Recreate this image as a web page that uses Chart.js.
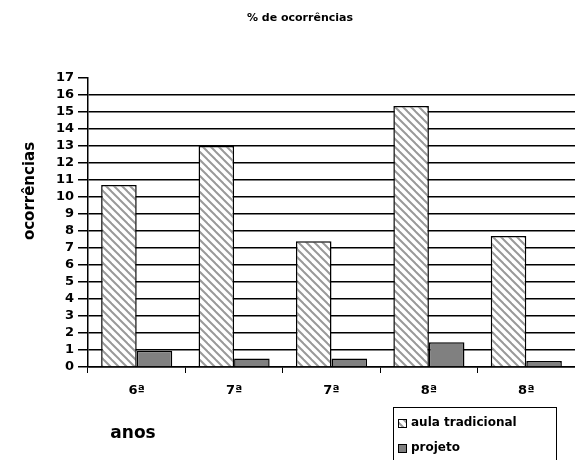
<!DOCTYPE html>
<html>
<head>
<meta charset="utf-8">
<script src="https://cdn.jsdelivr.net/npm/chart.js@4.4.1/dist/chart.umd.min.js"></script>
<style>
  html, body { margin: 0; padding: 0; background: #fff; }
  #wrap { width: 575px; height: 460px; }
</style>
</head>
<body>
<div id="wrap"><canvas id="chart"></canvas></div>
<script>
const anos = ["6ª", "7ª", "7ª", "8ª", "8ª"];
const aulaTradicional = [10.7, 13.0, 7.4, 15.35, 7.7];
const projeto = [0.95, 0.5, 0.5, 1.45, 0.35];
const yTicks = [0, 1, 2, 3, 4, 5, 6, 7, 8, 9, 10, 11, 12, 13, 14, 15, 16, 17];

const FONT = "'DejaVu Sans', sans-serif";

// diagonal hatch "\\\" for the first series
function makeHatch() {
  const s = 8;
  const c = document.createElement("canvas");
  c.width = s; c.height = s;
  const g = c.getContext("2d");
  g.fillStyle = "#fff";
  g.fillRect(0, 0, s, s);
  g.strokeStyle = "#999";
  g.lineWidth = 2;
  [-s, 0, s].forEach(k => {
    g.beginPath();
    g.moveTo(-1, k - 1);
    g.lineTo(s + 1, k + s + 1);
    g.stroke();
  });
  return g.createPattern(c, "repeat");
}
const hatch = makeHatch();

const extras = {
  id: "extras",
  afterDraw(chart) {
    const ctx = chart.ctx;
    ctx.save();
    ctx.fillStyle = "#000";
    ctx.textBaseline = "middle";

    // title
    ctx.font = "bold 11px " + FONT;
    ctx.textAlign = "center";
    ctx.fillText("% de ocorrências", 300, 18);

    // y title
    ctx.save();
    ctx.translate(30, 191);
    ctx.rotate(-Math.PI / 2);
    ctx.font = "bold 15px " + FONT;
    ctx.fillText("ocorrências", 0, 0);
    ctx.restore();

    // x title
    ctx.font = "bold 17px " + FONT;
    ctx.fillText("anos", 133, 434);

    // legend
    ctx.strokeStyle = "#000";
    ctx.lineWidth = 1;
    ctx.strokeRect(393.5, 407.5, 163, 60);
    const items = [
      { label: "aula tradicional", fill: hatch, y: 423 },
      { label: "projeto", fill: "#808080", y: 448 }
    ];
    ctx.textAlign = "left";
    ctx.font = "bold 12px " + FONT;
    items.forEach(it => {
      ctx.fillStyle = it.fill;
      ctx.fillRect(398, it.y - 4, 8, 8);
      ctx.strokeRect(398.5, it.y - 3.5, 8, 8);
      ctx.fillStyle = "#000";
      ctx.fillText(it.label, 411, it.y);
    });
    ctx.restore();
  }
};

new Chart(document.getElementById("chart"), {
  type: "bar",
  data: {
    labels: anos,
    datasets: [
      {
        label: "aula tradicional",
        data: aulaTradicional,
        backgroundColor: hatch,
        borderColor: "#000",
        borderWidth: 1.5,
        borderSkipped: "bottom"
      },
      {
        label: "projeto",
        data: projeto,
        backgroundColor: "#808080",
        borderColor: "#000",
        borderWidth: 1.5,
        borderSkipped: "bottom"
      }
    ]
  },
  options: {
    responsive: true,
    maintainAspectRatio: false,
    animation: false,
    datasets: {
      bar: { categoryPercentage: 0.73, barPercentage: 1 }
    },
    layout: { padding: { top: 78, left: 0, right: 0, bottom: 0 } },
    plugins: {
      legend: { display: false },
      title: { display: false },
      tooltip: { enabled: false }
    },
    scales: {
      x: {
        afterFit(scale) { scale.height = 93; },
        border: { color: "#000", width: 1.5 },
        grid: {
          offset: true,
          drawOnChartArea: false,
          color: "#000",
          tickColor: "#000",
          tickLength: 6,
          lineWidth: 1
        },
        ticks: {
          color: "#000",
          padding: 10,
          font: { family: FONT, weight: "bold", size: 13 }
        }
      },
      y: {
        min: 0,
        max: 17,
        afterFit(scale) { scale.width = 88; },
        afterBuildTicks(scale) {
          scale.ticks = yTicks.map(v => ({ value: v }));
        },
        border: { color: "#000", width: 1.5 },
        grid: {
          color: ctx => (ctx.tick && ctx.tick.value === 17 ? "rgba(0,0,0,0)" : "#000"),
          tickColor: "#000",
          tickLength: 10,
          lineWidth: 1.5
        },
        ticks: {
          color: "#000",
          padding: 4,
          autoSkip: false,
          font: { family: FONT, weight: "bold", size: 13 }
        }
      }
    }
  },
  plugins: [extras]
});
</script>
</body>
</html>
